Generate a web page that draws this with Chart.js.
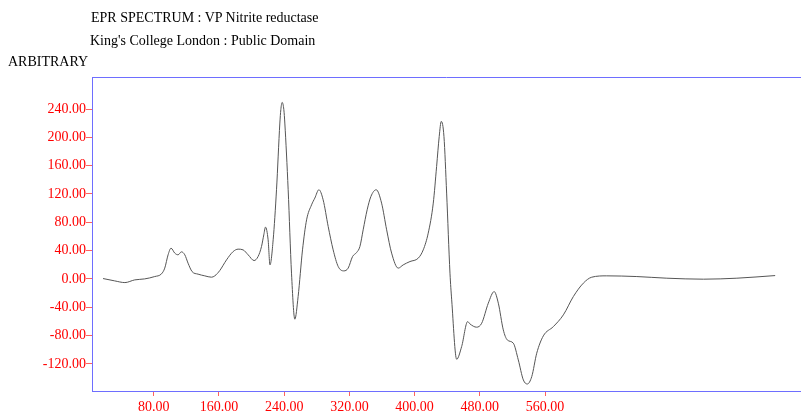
<!DOCTYPE html>
<html>
<head>
<meta charset="utf-8">
<script src="https://cdn.jsdelivr.net/npm/chart.js@4.4.0/dist/chart.umd.min.js"></script>
<style>
  html, body { margin: 0; padding: 0; background: #fff; }
  #wrap { position: relative; width: 801px; height: 413px; overflow: hidden; }
  .label { position: absolute; font-family: 'Liberation Serif', 'Times New Roman', serif; font-size: 14px; line-height: 16px; color: #000; white-space: nowrap; }
</style>
</head>
<body>
<div id="wrap">
  <canvas id="eprChart" width="801" height="413"></canvas>
  <div class="label" style="left:91px; top:10px;">EPR SPECTRUM : VP Nitrite reductase</div>
  <div class="label" style="left:90px; top:33px;">King's College London : Public Domain</div>
  <div class="label" style="left:8px; top:54px;">ARBITRARY</div>
</div>
<script>
// field positions (x)
const fieldValues = [
  17.8, 32.1, 44.6, 56.7, 68.9, 81.2, 89.5, 93.5, 97.6, 101.2,
  105.8, 109.8, 114.0, 118.1, 122.1, 127.0, 134.4, 142.6, 150.8, 154.9,
  161.0, 169.3, 177.4, 183.5, 189.6, 195.8, 203.1, 208.0, 212.2, 215.0,
  217.1, 220.3, 222.6, 226.5, 230.6, 234.7, 235.9, 237.5, 239.6, 240.8,
  244.9, 249.0, 253.1, 257.1, 262.5, 267.5, 273.6, 277.6, 282.6, 287.8,
  294.0, 300.1, 306.3, 313.2, 318.5, 323.9, 328.8, 332.9, 336.9, 341.8,
  346.4, 352.9, 359.5, 365.7, 371.8, 379.9, 386.0, 394.3, 404.5, 410.6,
  416.7, 422.9, 427.0, 430.2, 432.7, 436.0, 439.3, 443.4, 445.5, 451.6,
  457.7, 465.1, 467.9, 476.1, 482.3, 490.4, 497.6, 502.7, 508.8, 513.7,
  521.1, 527.2, 533.4, 538.3, 543.7, 549.8, 557.9, 570.2, 582.5, 594.7,
  607.0, 617.3, 635.7, 672.6, 709.4, 754.3, 795.3, 842.3
];

// signal (arbitrary units)
const signalValues = [
  0.6, -2.7, -5.1, -1.3, 0.1, 3.4, 7.2, 15.3, 34.1, 43.5,
  36.5, 34.1, 38.3, 34.1, 22.3, 10.5, 6.8, 4.4, 2.5, 4.4,
  11.9, 27.0, 38.7, 42.1, 41.1, 34.1, 26.0, 31.7, 45.8, 62.3,
  73.2, 55.3, 19.9, 55.3, 126.0, 220.2, 239.0, 249.3, 239.0, 220.2,
  126.0, 8.2, -56.8, -24.9, 41.1, 83.5, 104.7, 114.2, 126.0, 111.8,
  74.1, 41.1, 17.5, 11.4, 15.3, 31.7, 37.3, 45.8, 69.4, 97.7,
  116.5, 126.0, 107.1, 69.4, 36.5, 15.3, 19.9, 24.6, 29.4, 41.1,
  64.7, 107.1, 158.9, 201.3, 222.5, 201.3, 121.3, 8.2, -29.5, -113.4,
  -95.5, -60.2, -63.5, -68.1, -62.5, -34.2, -17.8, -34.2, -71.9, -86.1,
  -90.7, -114.3, -142.6, -148.3, -137.9, -104.9, -80.4, -67.3, -50.7, -24.9,
  -5.9, 2.5, 4.4, 3.4, 1.1, -0.3, 1.1, 4.8
];

const xTicks = [80, 160, 240, 320, 400, 480, 560];
const yTicks = [-120, -80, -40, 0, 40, 80, 120, 160, 200, 240];

const frameBlue = '#6e6eff';
const tickRed = '#ff0000';
const serif = "'Liberation Serif', 'Times New Roman', serif";

// top edge of the frame (no right edge in the original)
const topBorder = {
  id: 'topBorder',
  afterDraw(chart) {
    const { ctx, chartArea } = chart;
    ctx.save();
    ctx.strokeStyle = frameBlue;
    ctx.lineWidth = 1;
    ctx.beginPath();
    ctx.moveTo(chartArea.left, Math.round(chartArea.top) + 0.5);
    ctx.lineTo(chartArea.right, Math.round(chartArea.top) + 0.5);
    ctx.stroke();
    ctx.restore();
  }
};

const ctx = document.getElementById('eprChart').getContext('2d');

new Chart(ctx, {
  type: 'line',
  data: {
    datasets: [{
      data: fieldValues.map((x, i) => ({ x: x, y: signalValues[i] })),
      borderColor: '#555555',
      borderWidth: 1,
      pointRadius: 0,
      fill: false,
      cubicInterpolationMode: 'monotone',
      tension: 0.4
    }]
  },
  options: {
    responsive: false,
    animation: false,
    layout: { padding: { top: 77, right: 0, bottom: 0, left: 0 } },
    plugins: {
      legend: { display: false },
      tooltip: { enabled: false }
    },
    scales: {
      x: {
        type: 'linear',
        min: 4.26,
        max: 874,
        afterBuildTicks: (axis) => { axis.ticks = xTicks.map(v => ({ value: v })); },
        afterFit: (axis) => { axis.height = 22; },
        grid: {
          display: true,
          drawOnChartArea: false,
          drawTicks: true,
          tickLength: 5,
          color: '#ff6060'
        },
        border: { display: true, color: frameBlue, width: 1 },
        ticks: {
          color: tickRed,
          padding: 3,
          maxRotation: 0,
          autoSkip: false,
          font: { family: serif, size: 14 },
          callback: (v) => Number(v).toFixed(2)
        }
      },
      y: {
        min: -158.2,
        max: 285.2,
        afterBuildTicks: (axis) => { axis.ticks = yTicks.map(v => ({ value: v })); },
        afterFit: (axis) => { axis.width = 92; },
        grid: {
          display: true,
          drawOnChartArea: false,
          drawTicks: true,
          tickLength: 6,
          color: '#ff6060'
        },
        border: { display: true, color: frameBlue, width: 1 },
        ticks: {
          color: tickRed,
          padding: 0,
          autoSkip: false,
          font: { family: serif, size: 14 },
          callback: (v) => Number(v).toFixed(2)
        }
      }
    }
  },
  plugins: [topBorder]
});
</script>
</body>
</html>
